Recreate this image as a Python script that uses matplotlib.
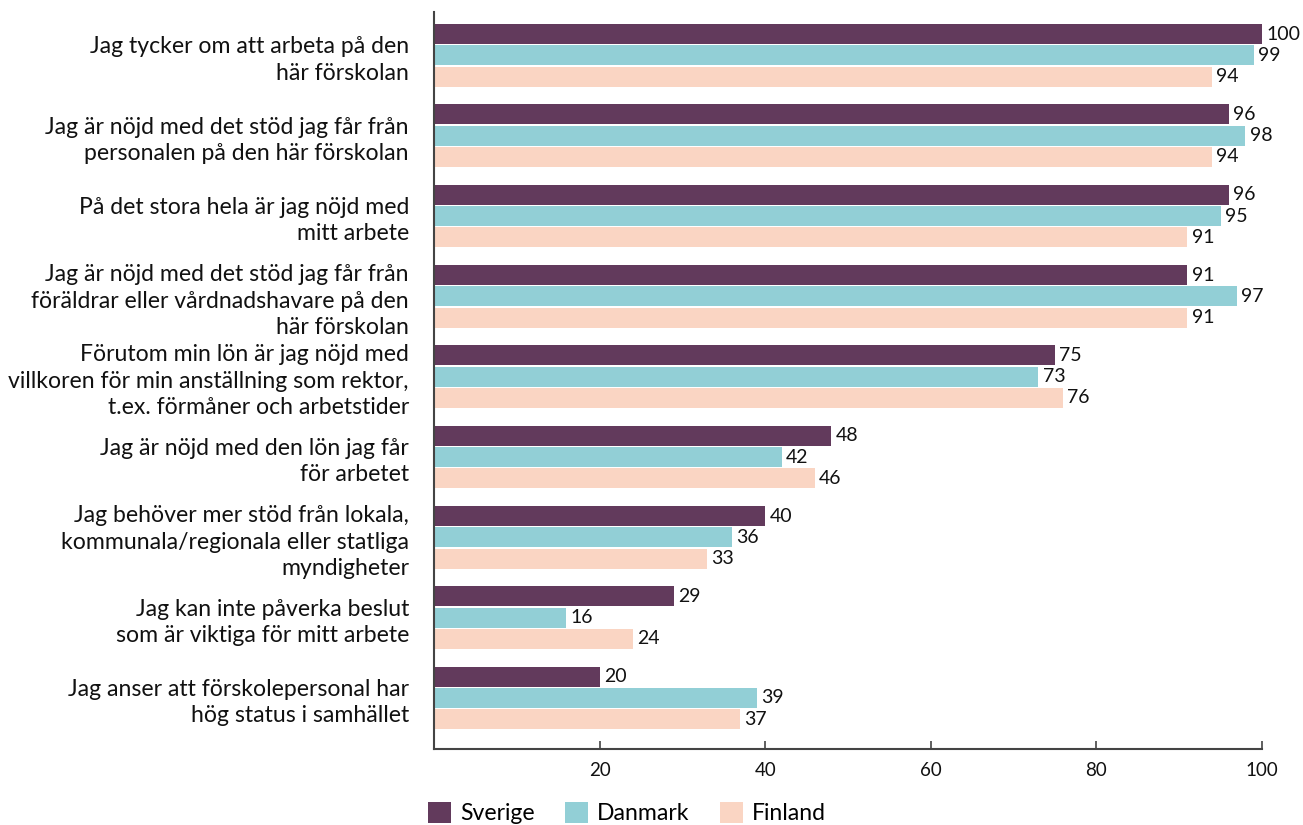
import matplotlib
matplotlib.use("Agg")
import matplotlib.pyplot as plt
import numpy as np
from matplotlib.patches import Patch

plt.rcParams['font.family'] = ['Lato', 'DejaVu Sans']

categories = [
    "Jag tycker om att arbeta på den\nhär förskolan",
    "Jag är nöjd med det stöd jag får från\npersonalen på den här förskolan",
    "På det stora hela är jag nöjd med\nmitt arbete",
    "Jag är nöjd med det stöd jag får från\nföräldrar eller vårdnadshavare på den\nhär förskolan",
    "Förutom min lön är jag nöjd med\nvillkoren för min anställning som rektor,\nt.ex. förmåner och arbetstider",
    "Jag är nöjd med den lön jag får\nför arbetet",
    "Jag behöver mer stöd från lokala,\nkommunala/regionala eller statliga\nmyndigheter",
    "Jag kan inte påverka beslut\nsom är viktiga för mitt arbete",
    "Jag anser att förskolepersonal har\nhög status i samhället",
]
series_names = ["Sverige", "Danmark", "Finland"]
sverige = [100, 96, 96, 91, 75, 48, 40, 29, 20]
danmark = [99, 98, 95, 97, 73, 42, 36, 16, 39]
finland = [94, 94, 91, 91, 76, 46, 33, 24, 37]
colors = ["#623A5C", "#92CFD6", "#FAD5C3"]

fig = plt.figure(figsize=(13.03, 8.25), dpi=100)
ax = fig.add_axes([434/1303, 1-749/825, (1262-434)/1303, (749-12)/825])

n = len(categories)
y = np.arange(n)
bh = 0.25
step = 0.265
for i, (vals, name, c) in enumerate(zip([sverige, danmark, finland], series_names, colors)):
    bars = ax.barh(y + (i-1)*step, vals, height=bh, color=c, label=name)
    lbls = ax.bar_label(bars, labels=[str(v) for v in vals], padding=3, fontsize=14, color='#111111')
    for t in lbls:
        t.set_clip_on(False)

ax.set_xlim(0, 100)
ax.set_ylim(n - 1 + 0.635, -0.54)
ax.set_yticks(y)
ax.set_yticklabels(categories, fontsize=16.6, color='#111111', linespacing=1.32)
ax.tick_params(axis='y', length=0, pad=18)
ax.set_xticks([20, 40, 60, 80, 100])
ax.tick_params(axis='x', direction='in', length=6, width=1.2, color='#444444', labelsize=13.5, pad=9, labelcolor='#111111')
for s in ['top', 'right']:
    ax.spines[s].set_visible(False)
for s in ['left', 'bottom']:
    ax.spines[s].set_color('#444444')
    ax.spines[s].set_linewidth(1.5)

handles = [Patch(facecolor=c, label=nm) for c, nm in zip(colors, series_names)]
fig.legend(handles=handles, loc='lower left', bbox_to_anchor=(428/1303, 0.5/825), ncol=3,
           frameon=False, fontsize=16.6, handlelength=1.0, handleheight=1.0,
           handletextpad=0.4, columnspacing=1.3, borderaxespad=0, borderpad=0)

fig.savefig("out.png", dpi=100)
